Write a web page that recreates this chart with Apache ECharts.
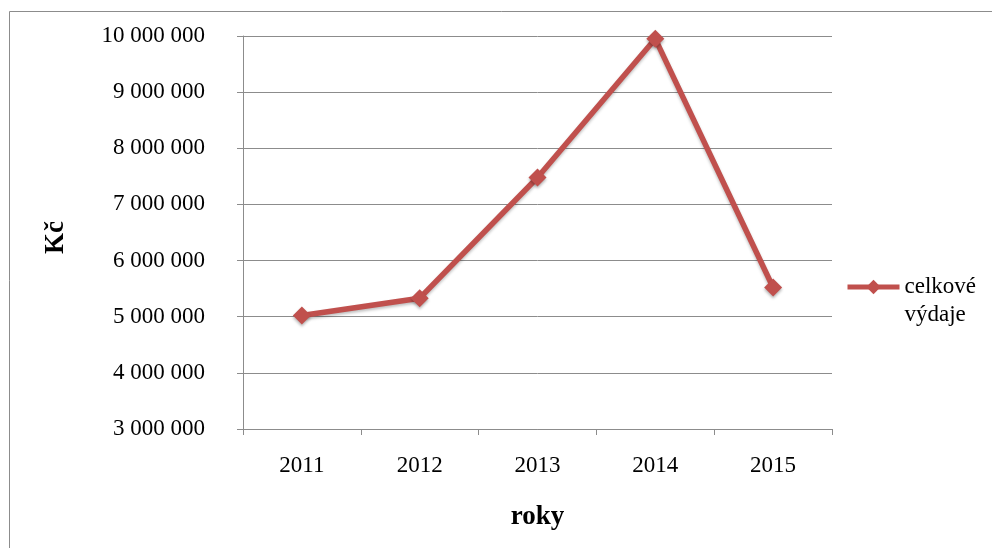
<!DOCTYPE html>
<html>
<head>
<meta charset="utf-8">
<title>celkové výdaje</title>
<script src="https://cdn.jsdelivr.net/npm/echarts@6/dist/echarts.min.js"></script>
<style>
html, body { margin: 0; padding: 0; background: #fff; }
#chart { width: 992px; height: 548px; }
</style>
</head>
<body>
<div id="chart"></div>
<script>
// data
var years = ['2011', '2012', '2013', '2014', '2015'];
var vydaje = [5020000, 5330000, 7480000, 9950000, 5520000];
var seriesName = 'celkové výdaje';

function fmtNum(v) {
    return String(v).replace(/\B(?=(\d{3})+(?!\d))/g, ' ');
}

var myChart = echarts.init(document.getElementById('chart'));
var serif = '"Liberation Serif", "Times New Roman", serif';

var options = {
    backgroundColor: '#fff',
    animation: false,
    graphic: [{
        type: 'rect',
        shape: { x: 9.5, y: 11.5, width: 1000, height: 600 },
        style: { fill: 'none', stroke: '#8c8c8c', lineWidth: 1 },
        silent: true
    }],
    grid: { left: 243, top: 36, width: 589, height: 393 },
    legend: {
        left: 845,
        top: 245,
        padding: 0,
        itemWidth: 52,
        itemHeight: 18,
        data: [seriesName],
        // prazdny prvni radek -> ikona vychazi na radek "celkové"
        formatter: function () { return ' \ncelkové\nvýdaje'; },
        lineStyle: { width: 5 },
        textStyle: {
            fontFamily: serif,
            fontSize: 23,
            color: '#000',
            lineHeight: 28
        }
    },
    xAxis: {
        type: 'category',
        data: years,
        boundaryGap: true,
        name: 'roky',
        nameLocation: 'middle',
        nameGap: 75,
        nameTextStyle: { fontFamily: serif, fontSize: 27, fontWeight: 'bold', color: '#000' },
        axisLine: { lineStyle: { color: '#8c8c8c', width: 1 } },
        axisTick: { show: true, length: 6, lineStyle: { color: '#8c8c8c' } },
        axisLabel: { fontFamily: serif, fontSize: 23, color: '#000', margin: 25 }
    },
    yAxis: {
        type: 'value',
        min: 3000000,
        max: 10000000,
        interval: 1000000,
        name: 'Kč',
        nameLocation: 'middle',
        nameRotate: 90,
        nameGap: 173,
        nameTextStyle: {
            fontFamily: serif, fontSize: 27, fontWeight: 'bold', color: '#000',
            padding: [0, 10, 0, 0]
        },
        axisLine: { show: true, lineStyle: { color: '#8c8c8c', width: 1 } },
        axisTick: { show: true, length: 6, lineStyle: { color: '#8c8c8c' } },
        axisLabel: {
            fontFamily: serif, fontSize: 23, color: '#000', margin: 38,
            formatter: fmtNum
        },
        splitLine: { show: true, lineStyle: { color: '#8c8c8c', width: 1 } }
    },
    series: [{
        name: seriesName,
        type: 'line',
        data: vydaje,
        symbol: 'diamond',
        symbolSize: 18,
        lineStyle: {
            color: '#C0504D', width: 5.5,
            shadowColor: 'rgba(0,0,0,0.25)', shadowBlur: 3, shadowOffsetY: 2
        },
        itemStyle: {
            color: '#C0504D', borderWidth: 0,
            shadowColor: 'rgba(0,0,0,0.3)', shadowBlur: 3, shadowOffsetY: 2
        }
    }]
};

myChart.setOption(options, true);
</script>
</body>
</html>
